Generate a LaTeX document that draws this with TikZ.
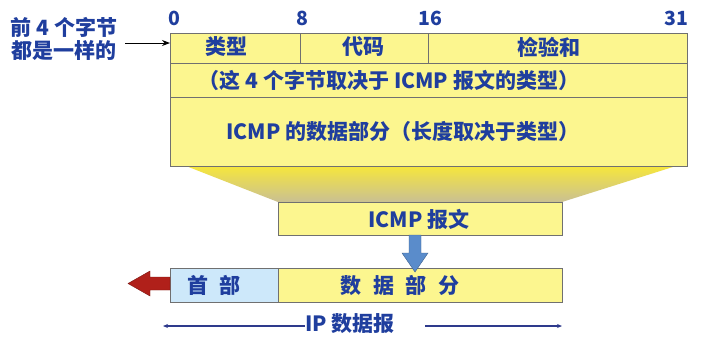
\documentclass[tikz,border=0pt]{standalone}
\usepackage{fontspec}
\setmainfont{Noto Sans CJK SC}
\usetikzlibrary{arrows.meta}
\definecolor{txtblue}{HTML}{1F3E9E}
\definecolor{boxyellow}{HTML}{FCF68F}
\definecolor{hdrblue}{HTML}{CDE8FA}
\definecolor{edgegray}{HTML}{707070}
\definecolor{arrowblue}{HTML}{5A8CCB}
\definecolor{arrowred}{HTML}{B0201A}
\definecolor{linenavy}{HTML}{2E3A8C}
\definecolor{shadetop}{HTML}{F6E63C}
\definecolor{shadebot}{HTML}{C9C093}
\begin{document}
\begin{tikzpicture}[x=1pt,y=-1pt,
  cell/.style={draw=edgegray,line width=0.8pt,fill=boxyellow,inner sep=0pt,outer sep=0pt,anchor=north west},
  lbl/.style={text=txtblue,font=\bfseries\fontsize{21}{23}\selectfont,inner sep=0pt},
  bitlbl/.style={text=txtblue,font=\bfseries\fontsize{19.5}{21}\selectfont,inner sep=0pt}]
\useasboundingbox[fill=white] (0,0) rectangle (703,346);
% trapezoid shade
\shade[top color=shadetop, bottom color=shadebot]
  (186,166) -- (676,166) -- (562,202) -- (278,202) -- cycle;
% ICMP format box
\node[cell,minimum width=130pt,minimum height=30pt] (type) at (170,33) {};
\node[cell,minimum width=128pt,minimum height=30pt] (code) at (300,33) {};
\node[cell,minimum width=259pt,minimum height=30pt] (cksum) at (428,33) {};
\node[cell,minimum width=517pt,minimum height=34pt] (row2) at (170,63) {};
\node[cell,minimum width=517pt,minimum height=69pt] (row3) at (170,97) {};
\node[lbl] (ttype) at (226,47) {类型};
\node[lbl] (tcode) at (363,47) {代码};
\node[lbl] (tck) at (549,47) {检验和};
\node[lbl] (t2) at (389,80) {（这 4 个字节取决于 ICMP 报文的类型）};
\node[lbl] (t3) at (403,131) {ICMP 的数据部分（长度取决于类型）};
% bit labels
\node[bitlbl] (b0) at (174,18) {0};
\node[bitlbl] (b8) at (302,18) {8};
\node[bitlbl] (b16) at (430,18) {16};
\node[bitlbl] (b31) at (676,18) {31};
% left note
\node[lbl,align=center] (note) at (64,39) {前 4 个字节\\都是一样的};
\coordinate (noteend) at (125,43);
\draw[-{Stealth[length=8pt,width=6pt]},line width=1pt] (noteend) -- (type.west |- noteend);
% ICMP message
\node[cell,minimum width=284pt,minimum height=33pt] (icmp) at (278,202) {};
\node[lbl] (ticmp) at (419,219) {ICMP 报文};
% IP datagram
\node[cell,fill=hdrblue,minimum width=108pt,minimum height=34pt] (hdr) at (170,268) {};
\node[cell,minimum width=284pt,minimum height=34pt] (data) at (278,268) {};
\node[lbl] (thdr) at (214,285) {首\hspace{0.55em}部};
\node[lbl] (tdata) at (400,285) {数\hspace{0.55em}据\hspace{0.55em}部\hspace{0.55em}分};
% blue down arrow
\fill[arrowblue,draw=arrowblue!70!black,line width=0.4pt] (409,235) -- (421,235) -- (421,253) -- (428,253) -- (415,272) -- (402,253) -- (409,253) -- cycle;
% red left arrow
\fill[arrowred,draw=arrowred!70!black,line width=0.4pt] (170,277) -- (150,277) -- (150,271) -- (128,283.5) -- (150,296) -- (150,290) -- (170,290) -- cycle;
% IP datagram label
\node[lbl] (tip) at (350,324) {IP 数据报};
\coordinate (lend) at (163,326);
\coordinate (rend) at (562,326);
\coordinate (lstart) at (305,326);
\coordinate (rstart) at (425,326);
\draw[-{Stealth[length=5pt,width=4pt]},linenavy,line width=1.2pt] (lstart) -- (lend);
\draw[-{Stealth[length=5pt,width=4pt]},linenavy,line width=1.2pt] (rstart) -- (rend);
\end{tikzpicture}
\end{document}
